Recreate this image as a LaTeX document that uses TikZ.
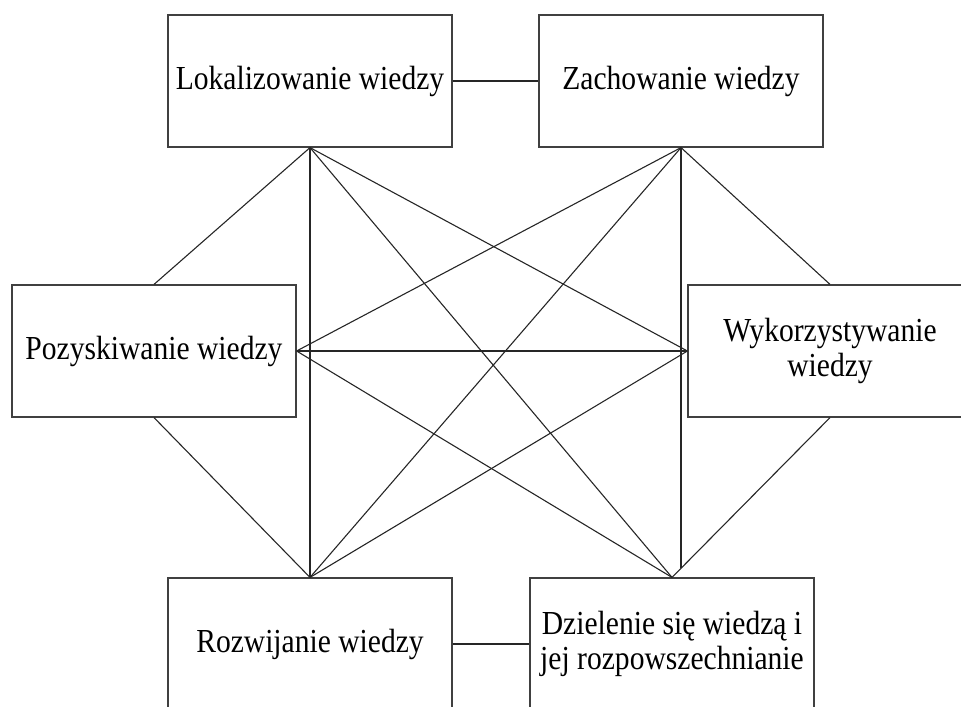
\documentclass[tikz,border=0pt]{standalone}
\usepackage{fontspec}
\setmainfont[FakeStretch=0.88]{Liberation Serif}
\usepackage{tikz}
\usetikzlibrary{positioning, calc}

\begin{document}
\begin{tikzpicture}[
  x=0.5pt, y=-0.5pt,
  kbox/.style={draw=black!75, line width=0.6pt,
               minimum width=142pt, minimum height=66pt, inner sep=0pt,
               align=center, font=\fontsize{16.8}{17.5}\selectfont},
  lnk/.style={draw=black!85, line width=0.55pt}
]
\useasboundingbox (0,0) rectangle (961,706);

% processes
\node[kbox] (loc)   at (310, 81)  {Lokalizowanie wiedzy};
\node[kbox] (zach)  at (681, 81)  {Zachowanie wiedzy};
\node[kbox] (poz)   at (154, 351) {Pozyskiwanie wiedzy};
\node[kbox] (wyk)   at (830, 351) {Wykorzystywanie\\wiedzy};
\node[kbox] (roz)   at (310, 644) {Rozwijanie wiedzy};
\node[kbox] (dziel) at (672, 644) {Dzielenie się wiedzą i\\jej rozpowszechnianie};

% end of the vertical line under Zachowanie
\coordinate (zEnd) at (681, 568);

% links
\draw[lnk] (loc.east) -- (zach.west);
\draw[lnk] (roz.east) -- (dziel.west);
\foreach \a/\b in {loc.south/poz.north, loc.south/roz.north, loc.south/wyk.west,
                   loc.south/dziel.north,
                   zach.south/poz.east, zach.south/roz.north, zach.south/zEnd,
                   zach.south/wyk.north,
                   poz.east/wyk.west, poz.east/dziel.north, poz.south/roz.north,
                   wyk.west/roz.north, wyk.south/dziel.north}{
  \draw[lnk] (\a) -- (\b);
}

\end{tikzpicture}
\end{document}
